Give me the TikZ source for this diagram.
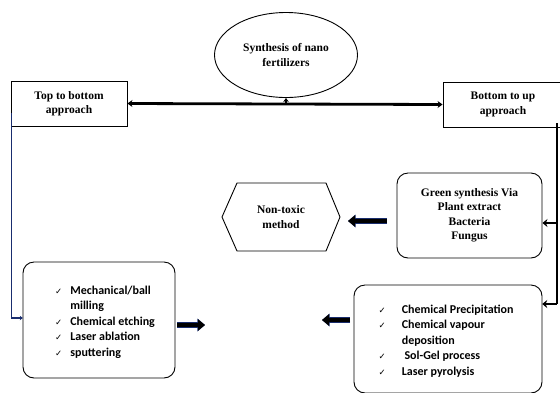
\documentclass[tikz,border=0pt]{standalone}
\usepackage{fontspec}
\setmainfont{Liberation Serif}
\newfontfamily\carl{Carlito}
\newfontfamily\djv{DejaVu Sans}
\usetikzlibrary{shapes.geometric,arrows.meta}
\definecolor{navyc}{RGB}{25,45,110}
\newcommand{\ck}{{\djv\fontsize{8.5}{8.5}\selectfont ✓}}
\begin{document}
\begin{tikzpicture}[x=1pt,y=-1pt,
  tnr/.style={font=\bfseries\fontsize{11.5}{14.5}\selectfont, align=center},
  sqbox/.style={draw, line width=0.9pt, tnr, inner sep=0pt},
  rbox/.style={draw, line width=0.9pt, rounded corners=11pt, inner sep=0pt},
  listtxt/.style={font=\carl\bfseries\fontsize{12}{15.5}\selectfont, inner sep=0pt, anchor=north west},
  thickcon/.style={line width=2.8pt},
  bigarrow/.style={line width=4.5pt, -{Triangle[length=7pt,width=11pt]},
     preaction={draw=navyc, line width=5.6pt, -{Triangle[length=7.6pt,width=12.5pt]}}}
]
\useasboundingbox (0,0) rectangle (560,392);

% top ellipse
\node[draw, ellipse, line width=0.9pt, minimum width=143pt, minimum height=85pt, tnr] (ell) at (286,55) {Synthesis of nano\\fertilizers};

% approach boxes
\node[sqbox, minimum width=116pt, minimum height=45pt] (topb) at (69,103.5) {Top to bottom\\approach};
\node[sqbox, minimum width=120pt, minimum height=45pt] (botb) at (503,104.5) {Bottom to up\\approach};

% double arrow and up arrow
\draw[thickcon, {Stealth[length=5pt,width=7pt]}-{Stealth[length=5pt,width=7pt]}] (topb.east) -- (botb.west);
\coordinate (upstart) at (ell.south |- topb.east);
\draw[line width=1.4pt, -{Stealth[length=4pt,width=5.5pt]}] (upstart) -- (ell.south);

% green synthesis box
\node[rbox, minimum width=145pt, minimum height=85pt, tnr] (green) at (469.5,215.5) {Green synthesis Via\\Plant extract\\Bacteria\\Fungus};

% hexagon
\node[tnr] (hex) at (281,217) {Non-toxic\\method};
\draw[line width=0.9pt] (222,217) -- (237,183) -- (326,183) -- (340,217) -- (326,251) -- (237,251) -- cycle;

% lower boxes
\draw[rbox] (23,262) rectangle (175,378);
\node[inner sep=0pt, minimum width=152pt, minimum height=116pt] (lbox) at (99,320) {};
\draw[rbox] (354,285) rectangle (542,393);
\node[inner sep=0pt, minimum width=188pt, minimum height=108pt] (rbox) at (448,339) {};

\node[listtxt] (llist) at (55,283) {\begin{tabular}{@{}l@{\hspace{8pt}}l@{}}
\ck & Mechanical/ball\\
    & milling\\
\ck & Chemical etching\\
\ck & Laser ablation\\
\ck & sputtering
\end{tabular}};

\node[listtxt] (rlist) at (378.5,302) {\begin{tabular}{@{}l@{\hspace{16pt}}l@{}}
\ck & Chemical Precipitation\\
\ck & Chemical vapour\\
    & deposition\\
\ck & \ Sol-Gel process\\
\ck & Laser pyrolysis
\end{tabular}};

% left connector
\coordinate (lstart) at ([xshift=1pt,yshift=13pt]topb.south west);
\draw[navyc, line width=1.7pt, -{Stealth[length=3pt,width=4.5pt]}] (lstart) |- (lbox.west |- 0,318);

% right connector
\coordinate (rstart) at (557,123);
\coordinate (rmid) at (557,223);
\coordinate (rend) at (557,304);
\draw[thickcon] (rstart) -- (rend);
\draw[thickcon, -{Stealth[length=5pt,width=8pt]}] (rmid) -- (green.east |- rmid);
\draw[thickcon, -{Stealth[length=5pt,width=8pt]}] (rend) -- (rbox.east |- rend);

% block arrows
\coordinate (a1s) at (387,221); \coordinate (a1e) at (348,221);
\draw[bigarrow] (a1s) -- (a1e);
\coordinate (a2s) at (177,325); \coordinate (a2e) at (205,325);
\draw[bigarrow] (a2s) -- (a2e);
\coordinate (a3s) at (350,320); \coordinate (a3e) at (322,320);
\draw[bigarrow] (a3s) -- (a3e);
\end{tikzpicture}
\end{document}
